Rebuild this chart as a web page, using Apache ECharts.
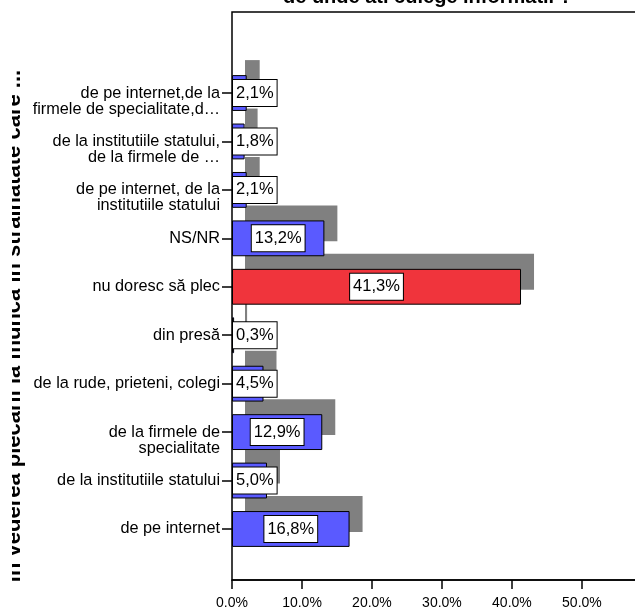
<!DOCTYPE html>
<html>
<head>
<meta charset="utf-8">
<script src="https://cdn.jsdelivr.net/npm/echarts@6/dist/echarts.min.js"></script>
<style>
  html, body { margin: 0; padding: 0; background: #fff; }
  #chart { width: 635px; height: 607px; }
</style>
</head>
<body>
<div id="chart"></div>
<script>
// answers, top to bottom as drawn
const categories = [
  "de pe internet,de la\nfirmele de specialitate,d…",
  "de la institutiile statului,\nde la firmele de …",
  "de pe internet, de la\ninstitutiile statului",
  "NS/NR",
  "nu doresc să plec",
  "din presă",
  "de la rude, prieteni, colegi",
  "de la firmele de\nspecialitate",
  "de la institutiile statului",
  "de pe internet",
];
const percents = [2.1, 1.8, 2.1, 13.2, 41.3, 0.3, 4.5, 12.9, 5.0, 16.8];
const highlighted = "nu doresc să plec";
const xTickValues = [0, 10, 20, 30, 40, 50];

const FONT = "'Liberation Sans', Arial, sans-serif";
const X_MAX = 58.3;
const PLOT_W = 408;
const PX_PER_UNIT = PLOT_W / X_MAX;
const LABEL_W = 46;

const chart = echarts.init(document.getElementById("chart"));

//bars with their value boxes
const mainData = percents.map((v, i) => ({
  value: v,
  itemStyle: { color: categories[i] === highlighted ? "#f0343c" : "#5a5aff" },
  label: {
    position: v * PX_PER_UNIT < LABEL_W ? "insideLeft" : "inside",
    distance: 1,
  },
}));

const hiddenX = (grid) => ({
  gridIndex: grid,
  type: "value",
  min: 0,
  max: X_MAX,
  show: false,
});

const option = {
  animation: false,
  backgroundColor: "#fff",
  title: {
    text: "de unde ati culege informatii ?",
    left: 283,
    top: -13,
    padding: 0,
    textStyle: {
      fontFamily: FONT,
      fontSize: 20,
      fontWeight: "bold",
      color: "#000",
      lineHeight: 20,
    },
  },
  grid: [
    { left: 232, width: PLOT_W, top: 12, bottom: 27, outerBoundsMode: "none", show: true, borderColor: "#000", borderWidth: 1.5, backgroundColor: "transparent" },
    { left: 232, width: PLOT_W, top: 68.8, bottom: 53.8, outerBoundsMode: "none" },
    { left: 245, width: PLOT_W, top: 53.8, bottom: 68.8, outerBoundsMode: "none" },
  ],
  xAxis: [
    {
      gridIndex: 0,
      type: "value",
      min: 0,
      max: X_MAX,
      interval: 10,
      splitLine: { show: false },
      axisLine: { show: true, lineStyle: { color: "#000", width: 1.5 } },
      axisTick: { show: true, length: 9, lineStyle: { color: "#000", width: 1.5 } },
      axisLabel: {
        showMaxLabel: false,
        margin: 16,
        color: "#000",
        fontFamily: FONT,
        fontSize: 14,
        formatter: (v) => (xTickValues.includes(v) ? v.toFixed(1) + "%" : ""),
      },
    },
    hiddenX(1),
    hiddenX(2),
  ],
  yAxis: [
    { gridIndex: 0, type: "value", show: false },
    {
      gridIndex: 1,
      type: "category",
      data: categories,
      inverse: true,
      axisLine: { show: false },
      axisTick: { show: true, alignWithLabel: true, length: 10, lineStyle: { color: "#000", width: 1.5 } },
      axisLabel: {
        interval: 0,
        margin: 12,
        color: "#000",
        fontFamily: FONT,
        fontSize: 16.3,
        lineHeight: 16,
        // two-line labels sit with their first line on the tick
        formatter: (s) => (s.indexOf("\n") >= 0 ? "\n" + s : s),
      },
    },
    { gridIndex: 2, type: "category", data: categories, inverse: true, show: false },
  ],
  series: [
    {
      name: "shadow",
      type: "bar",
      xAxisIndex: 2,
      yAxisIndex: 2,
      data: percents,
      barWidth: "74%",
      silent: true,
      z: 1,
      itemStyle: { color: "#808080" },
    },
    {
      name: "percent",
      type: "bar",
      xAxisIndex: 1,
      yAxisIndex: 1,
      data: mainData,
      barWidth: "74%",
      z: 3,
      itemStyle: { borderColor: "#000", borderWidth: 1 },
      label: {
        show: true,
        color: "#000",
        fontFamily: FONT,
        fontSize: 16.5,
        lineHeight: 19,
        backgroundColor: "#fff",
        borderColor: "#000",
        borderWidth: 1,
        padding: [4, 3, 3, 3],
        formatter: (p) => p.value.toFixed(1).replace(".", ",") + "%",
      },
    },
  ],
  graphic: [
    {
      type: "text",
      x: 25,
      y: 326,
      rotation: Math.PI / 2,
      z: 10,
      style: {
        text: "în vederea plecării la muncă în străinătate care ...",
        font: "bold 22px " + FONT,
        fill: "#000",
        align: "center",
        verticalAlign: "bottom",
      },
    },
    //the source crops the axis title on its left side
    {
      type: "rect",
      shape: { x: 0, y: 0, width: 12, height: 607 },
      z: 11,
      style: { fill: "#fff" },
    },
  ],
};

chart.setOption(option);
</script>
</body>
</html>
